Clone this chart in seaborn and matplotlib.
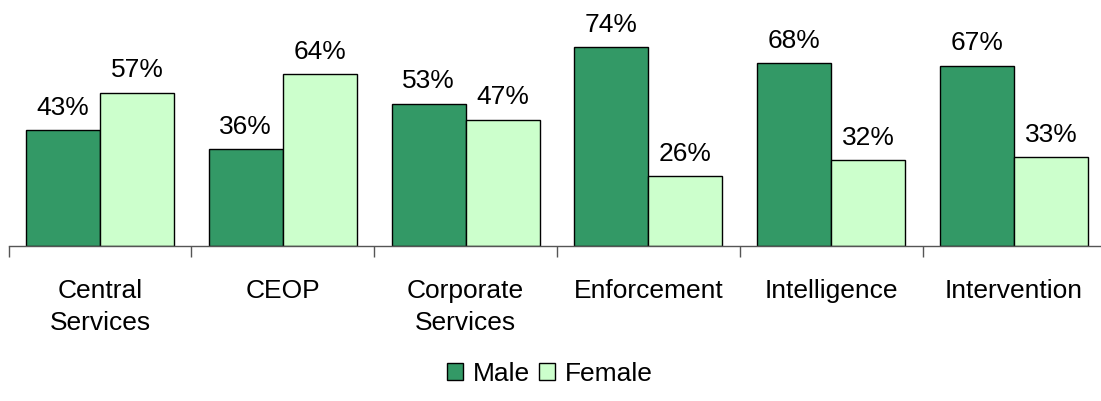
import matplotlib
matplotlib.use("Agg")
import matplotlib.pyplot as plt
import seaborn as sns
import pandas as pd
import numpy as np
from matplotlib.patches import Patch

categories = ["Central\nServices", "CEOP", "Corporate\nServices", "Enforcement", "Intelligence", "Intervention"]
male = [43, 36, 53, 74, 68, 67]
female = [57, 64, 47, 26, 32, 33]
series = ["Male", "Female"]
colors = {"Male": "#339966", "Female": "#CCFFCC"}

df = pd.DataFrame({
    "category": categories * 2,
    "group": ["Male"] * len(categories) + ["Female"] * len(categories),
    "value": male + female,
})

sns.set_theme(style="white")
plt.rcParams["font.family"] = ["Liberation Sans", "DejaVu Sans"]
plt.rcParams["text.color"] = "black"
plt.rcParams["xtick.color"] = "black"

W, H = 1101, 401
fig = plt.figure(figsize=(W / 100, H / 100), dpi=100)
# plot area runs slightly past the right edge of the canvas
x0, x1, base = 8.6, 1105.4, 246
ax = fig.add_axes([x0 / W, (H - base) / H, (x1 - x0) / W, base / H])

sns.barplot(data=df, x="category", y="value", hue="group", hue_order=series,
            palette=colors, order=categories, width=0.81, gap=0,
            edgecolor="black", linewidth=1.0, saturation=1, legend=False, ax=ax)

ax.set_ylim(0, 91.5)
ax.set_xlim(-0.5, len(categories) - 0.5)

fs = 19
for cont in ax.containers:
    ax.bar_label(cont, labels=[f"{v:.0f}%" for v in cont.datavalues],
                 padding=7.5, fontsize=fs, color="black")

ax.set_xlabel("")
ax.set_ylabel("")
ax.set_yticks([])
for s in ["top", "right", "left"]:
    ax.spines[s].set_visible(False)
ax.spines["bottom"].set_color("#555555")
ax.spines["bottom"].set_linewidth(1.0)

ax.set_xticks(np.arange(len(categories)))
ax.set_xticklabels(categories, fontsize=fs, color="black", linespacing=1.45)
ax.tick_params(axis="x", which="major", length=0, pad=23.5)
ax.set_xticks(np.arange(len(categories) + 1) - 0.5, minor=True)
ax.tick_params(axis="x", which="minor", length=8, width=1, color="#555555", direction="out", bottom=True)

handles = [Patch(facecolor=colors[s], edgecolor="black", linewidth=1.0, label=s) for s in series]
fig.legend(handles=handles, loc="center", bbox_to_anchor=(550 / W, 1 - 374 / H),
           ncol=2, frameon=False, fontsize=fs, handlelength=0.6, handleheight=0.6,
           handletextpad=0.38, columnspacing=0.34, borderpad=0, labelcolor="black")

fig.savefig("out.png", dpi=100)
